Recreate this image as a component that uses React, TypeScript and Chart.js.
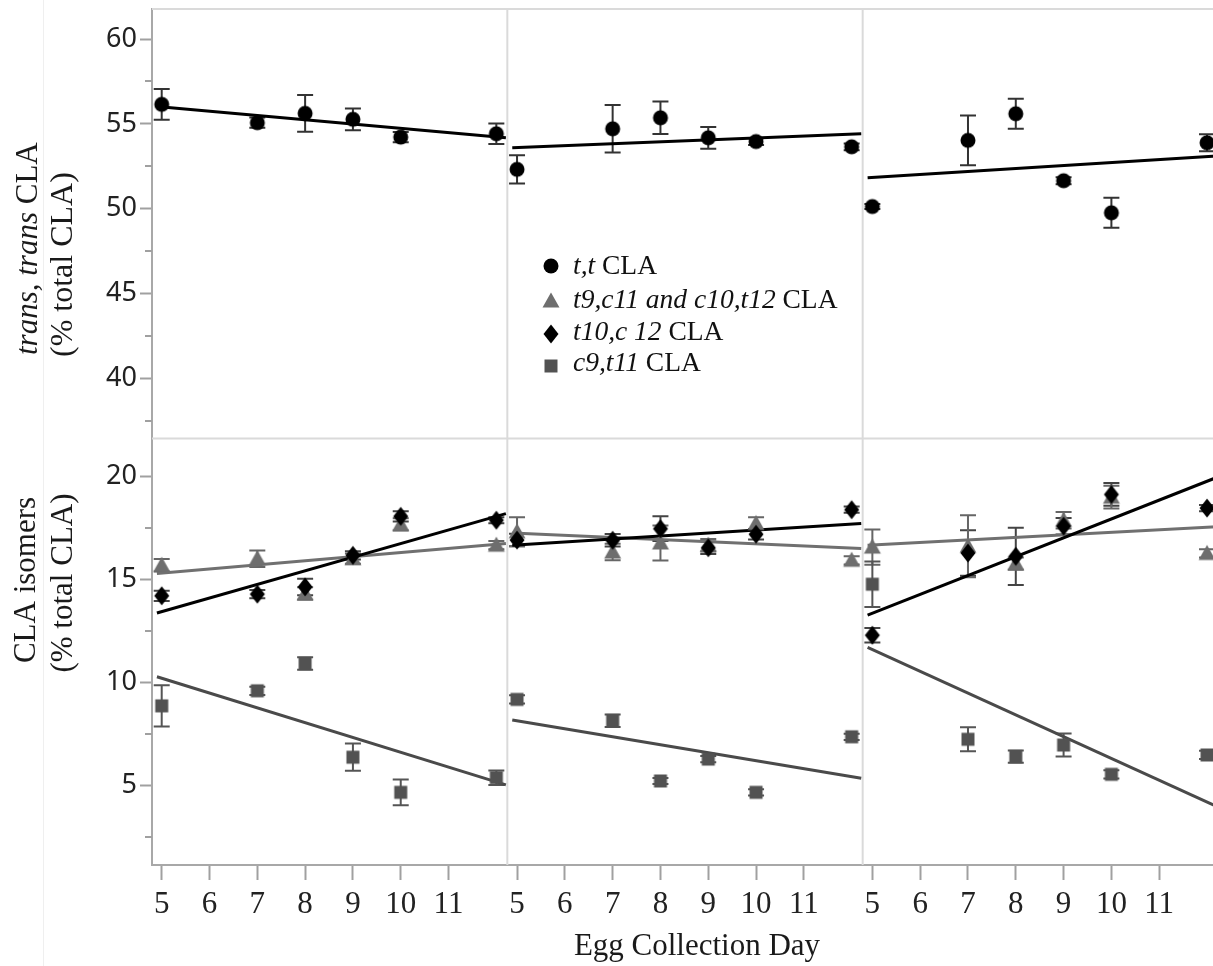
import React, { useEffect, useRef } from 'react';
import { Chart, registerables } from 'chart.js';

Chart.register(...registerables);

// ---------------- data ----------------
const days = [5, 7, 8, 9, 10, 12];
const xTickDays = [5, 6, 7, 8, 9, 10, 11];
const xRange = [4.797, 12.23];
const fitDays = [4.9, 12.2];

const topTicks = [40, 45, 50, 55, 60];
const topMinor = [37.5, 42.5, 47.5, 52.5, 57.5];
const topRange = [36.46, 61.77];
const bottomTicks = [5, 10, 15, 20];
const bottomMinor = [2.5, 7.5, 12.5, 17.5];
const bottomRange = [1.16, 21.82];

// t,t CLA (per panel)
const ttMean = [
  [56.15, 55.07, 55.62, 55.27, 54.22, 54.42],
  [52.32, 54.71, 55.36, 54.18, 53.96, 53.65],
  [50.13, 54.03, 55.6, 51.65, 49.76, 53.89],
];
const ttErr = [
  [0.9, 0.3, 1.08, 0.64, 0.3, 0.6],
  [0.83, 1.4, 0.96, 0.64, 0.2, 0.2],
  [0.15, 1.47, 0.88, 0.2, 0.88, 0.5],
];
const ttFit = [
  [56.03, 54.18],
  [53.59, 54.42],
  [51.82, 53.11],
];

// t9,c11 and c10,t12 CLA
const triMean = [
  [15.68, 16.0, 14.31, 16.0, 17.66, 16.65],
  [17.3, 16.32, 16.76, 16.65, 17.7, 15.92],
  [16.56, 16.6, 15.76, 17.86, 18.98, 16.25],
];
const triErr = [
  [0.3, 0.4, 0.3, 0.25, 0.3, 0.2],
  [0.7, 0.4, 0.85, 0.3, 0.3, 0.2],
  [0.85, 1.5, 0.3, 0.4, 0.55, 0.2],
];
const triFit = [
  [15.28, 16.73],
  [17.24, 16.49],
  [16.65, 17.54],
];

// t10,c12 CLA
const diaMean = [
  [14.2, 14.28, 14.63, 16.16, 18.05, 17.86],
  [16.9, 16.89, 17.45, 16.53, 17.18, 18.37],
  [12.29, 16.27, 16.11, 17.57, 19.11, 18.45],
];
const diaErr = [
  [0.25, 0.2, 0.4, 0.2, 0.25, 0.15],
  [0.3, 0.3, 0.6, 0.3, 0.25, 0.15],
  [0.35, 1.1, 1.39, 0.4, 0.55, 0.15],
];
const diaFit = [
  [13.37, 18.18],
  [16.65, 17.7],
  [13.26, 19.93],
];

// c9,t11 CLA
const sqMean = [
  [8.87, 9.6, 10.92, 6.38, 4.68, 5.39],
  [9.18, 8.15, 5.23, 6.29, 4.68, 7.37],
  [14.76, 7.25, 6.41, 6.97, 5.55, 6.49],
];
const sqErr = [
  [1.0, 0.2, 0.3, 0.66, 0.62, 0.35],
  [0.2, 0.3, 0.15, 0.15, 0.15, 0.15],
  [1.1, 0.58, 0.3, 0.56, 0.2, 0.2],
];
const sqFit = [
  [10.28, 5.04],
  [8.18, 5.36],
  [11.7, 4.0],
];

const legendItems: [string, string][] = [
  ['t,t', ' CLA'],
  ['t9,c11 and c10,t12', ' CLA'],
  ['t10,c 12', ' CLA'],
  ['c9,t11', ' CLA'],
];
const xTitle = 'Egg Collection Day';

// ---------------- styles ----------------
const SERIF = '"Liberation Serif", "Times New Roman", serif';
const SANS = '"Noto Sans", "Open Sans", sans-serif';

type Series = {
  label: string;
  mean: number[][];
  err: number[][];
  fit: number[][];
  yAxis: string;
  marker: string;
  color: string;
  line: string;
  errColor: string;
};

const series: Series[] = [
  { label: 't,t CLA', mean: ttMean, err: ttErr, fit: ttFit, yAxis: 'yT', marker: 'circle', color: '#000000', line: '#000000', errColor: '#333333' },
  { label: 't10,c12 CLA', mean: diaMean, err: diaErr, fit: diaFit, yAxis: 'yB', marker: 'diamond', color: '#000000', line: '#000000', errColor: '#444444' },
  { label: 't9,c11 and c10,t12 CLA', mean: triMean, err: triErr, fit: triFit, yAxis: 'yB', marker: 'triangle', color: '#6e6e6e', line: '#707070', errColor: '#666666' },
  { label: 'c9,t11 CLA', mean: sqMean, err: sqErr, fit: sqFit, yAxis: 'yB', marker: 'square', color: '#525252', line: '#4a4a4a', errColor: '#555555' },
];

const legendMarkers = [
  { marker: 'circle', color: '#000000' },
  { marker: 'triangle', color: '#6e6e6e' },
  { marker: 'diamond', color: '#000000' },
  { marker: 'square', color: '#525252' },
];

function drawMarker(g: CanvasRenderingContext2D, style: string, x: number, y: number, color: string) {
  g.fillStyle = color;
  g.beginPath();
  if (style === 'circle') {
    g.arc(x, y, 7.5, 0, Math.PI * 2);
  } else if (style === 'triangle') {
    g.moveTo(x, y - 8.5);
    g.lineTo(x + 8.5, y + 6.5);
    g.lineTo(x - 8.5, y + 6.5);
    g.closePath();
  } else if (style === 'diamond') {
    g.moveTo(x, y - 9.5);
    g.lineTo(x + 7.5, y);
    g.lineTo(x, y + 9.5);
    g.lineTo(x - 7.5, y);
    g.closePath();
  } else {
    g.rect(x - 6.5, y - 6.5, 13, 13);
  }
  g.fill();
}

function markerCanvas(style: string, color: string) {
  const c = document.createElement('canvas');
  c.width = 22;
  c.height = 22;
  const g = c.getContext('2d')!;
  drawMarker(g, style, 11, 11, color);
  return c;
}

function drawParts(ctx: CanvasRenderingContext2D, parts: [string, boolean][], x: number, y: number, size: number, align: 'left' | 'center') {
  const fonts = parts.map(([, it]) => `${it ? 'italic ' : ''}${size}px ${SERIF}`);
  let total = 0;
  const widths = parts.map(([t], i) => {
    ctx.font = fonts[i];
    const w = ctx.measureText(t).width;
    total += w;
    return w;
  });
  let cx = align === 'center' ? x - total / 2 : x;
  ctx.textAlign = 'left';
  ctx.textBaseline = 'alphabetic';
  parts.forEach(([t], i) => {
    ctx.font = fonts[i];
    ctx.fillText(t, cx, y);
    cx += widths[i];
  });
}

const decorPlugin = {
  id: 'decor',
  beforeDatasetsDraw(chart: any) {
    const ctx: CanvasRenderingContext2D = chart.ctx;
    const s = chart.scales;
    const { x1, x2, x3, yT, yB } = s;
    ctx.save();
    // faint outer image edge
    ctx.strokeStyle = '#efefef';
    ctx.lineWidth = 1;
    ctx.beginPath();
    ctx.moveTo(43.5, 0);
    ctx.lineTo(43.5, chart.height);
    ctx.stroke();

    // light panel frame
    ctx.strokeStyle = '#dadada';
    ctx.lineWidth = 2;
    ctx.beginPath();
    ctx.moveTo(x1.left, yT.top);
    ctx.lineTo(x3.right, yT.top);
    ctx.moveTo(x1.left, yT.bottom);
    ctx.lineTo(x3.right, yT.bottom);
    ctx.moveTo(x1.right, yT.top);
    ctx.lineTo(x1.right, yB.bottom);
    ctx.moveTo(x2.right, yT.top);
    ctx.lineTo(x2.right, yB.bottom);
    ctx.stroke();

    // minor y ticks
    ctx.strokeStyle = '#a0a0a0';
    ctx.lineWidth = 2;
    ctx.beginPath();
    topMinor.forEach((v) => {
      const y = Math.round(yT.getPixelForValue(v));
      ctx.moveTo(yT.right - 7, y);
      ctx.lineTo(yT.right, y);
    });
    bottomMinor.forEach((v) => {
      const y = Math.round(yB.getPixelForValue(v));
      ctx.moveTo(yB.right - 7, y);
      ctx.lineTo(yB.right, y);
    });
    ctx.stroke();

    // error bars
    chart.data.datasets.forEach((ds: any) => {
      if (!ds.errors) return;
      const xs = s[ds.xAxisID];
      const ys = s[ds.yAxisID];
      ctx.strokeStyle = ds.errColor;
      ctx.lineWidth = 2;
      ctx.beginPath();
      ds.data.forEach((pt: any, j: number) => {
        const e = ds.errors[j];
        const x = xs.getPixelForValue(pt.x);
        const y1 = ys.getPixelForValue(pt.y + e);
        const y2 = ys.getPixelForValue(pt.y - e);
        ctx.moveTo(x, y1);
        ctx.lineTo(x, y2);
        ctx.moveTo(x - 8, y1);
        ctx.lineTo(x + 8, y1);
        ctx.moveTo(x - 8, y2);
        ctx.lineTo(x + 8, y2);
      });
      ctx.stroke();
    });
    ctx.restore();
  },
  afterDraw(chart: any) {
    const ctx: CanvasRenderingContext2D = chart.ctx;
    ctx.save();
    ctx.fillStyle = '#1a1a1a';

    // y titles (rotated)
    ctx.save();
    ctx.translate(37, 355);
    ctx.rotate(-Math.PI / 2);
    drawParts(ctx, [['trans, trans', true], [' CLA', false]], 0, 0, 31, 'left');
    ctx.restore();
    ctx.save();
    ctx.translate(72, 357);
    ctx.rotate(-Math.PI / 2);
    drawParts(ctx, [['(% total CLA)', false]], 0, 0, 32, 'left');
    ctx.restore();

    ctx.save();
    ctx.translate(35, 580);
    ctx.rotate(-Math.PI / 2);
    drawParts(ctx, [['CLA isomers', false]], 0, 0, 31, 'center');
    ctx.restore();
    ctx.save();
    ctx.translate(72, 583);
    ctx.rotate(-Math.PI / 2);
    drawParts(ctx, [['(% total CLA)', false]], 0, 0, 31, 'center');
    ctx.restore();

    // x title
    drawParts(ctx, [[xTitle, false]], 697, 955, 31, 'center');

    // legend
    const markerY = [266, 301, 334, 366];
    const textY = [274, 308, 340, 371];
    legendItems.forEach(([it, rest], i) => {
      drawMarker(ctx, legendMarkers[i].marker, 551, markerY[i], legendMarkers[i].color);
      ctx.fillStyle = '#111111';
      drawParts(ctx, [[it, true], [rest, false]], 573, textY[i], 27.5, 'left');
    });
    ctx.restore();
  },
};

function xScale() {
  return {
    type: 'linear',
    position: 'bottom',
    stack: 'xs',
    stackWeight: 1,
    min: xRange[0],
    max: xRange[1],
    offset: false,
    afterBuildTicks: (sc: any) => {
      sc.ticks = xTickDays.map((v) => ({ value: v }));
    },
    afterFit: (sc: any) => {
      sc.height = 101;
      sc.paddingLeft = 0;
      sc.paddingRight = 0;
      sc.paddingTop = 0;
      sc.paddingBottom = 0;
    },
    grid: { drawOnChartArea: false, drawTicks: true, tickLength: 15, tickColor: '#a0a0a0', tickWidth: 2 },
    border: { display: true, color: '#a8a8a8', width: 2 },
    ticks: { font: { family: SERIF, size: 31 }, color: '#222222', padding: 6, maxRotation: 0, autoSkip: false },
  };
}

function yScale(range: number[], ticks: number[], stackWeight: number, weight: number) {
  return {
    type: 'linear',
    position: 'left',
    stack: 'ys',
    stackWeight,
    weight,
    min: range[0],
    max: range[1],
    afterBuildTicks: (sc: any) => {
      sc.ticks = ticks.map((v) => ({ value: v }));
    },
    afterFit: (sc: any) => {
      sc.width = 152;
      sc.paddingTop = 0;
      sc.paddingBottom = 0;
      sc.paddingLeft = 0;
      sc.paddingRight = 0;
    },
    grid: { drawOnChartArea: false, drawTicks: true, tickLength: 12, tickColor: '#a0a0a0', tickWidth: 2 },
    border: { display: true, color: '#a8a8a8', width: 2 },
    ticks: { font: { family: SANS, size: 27 }, color: '#222222', padding: 3 },
  };
}

export default function App() {
  const ref = useRef<HTMLCanvasElement>(null);
  useEffect(() => {
    const datasets: any[] = [];
    series.forEach((s) => {
      const img = markerCanvas(s.marker, s.color);
      [0, 1, 2].forEach((p) => {
        datasets.push({
          label: s.label,
          data: days.map((d, i) => ({ x: d, y: s.mean[p][i] })),
          errors: s.err[p],
          errColor: s.errColor,
          xAxisID: 'x' + (p + 1),
          yAxisID: s.yAxis,
          pointStyle: img,
          pointRadius: 8,
          showLine: false,
        });
      });
    });
    series.forEach((s) => {
      [0, 1, 2].forEach((p) => {
        datasets.push({
          label: s.label + ' fit',
          data: fitDays.map((d, i) => ({ x: d, y: s.fit[p][i] })),
          xAxisID: 'x' + (p + 1),
          yAxisID: s.yAxis,
          showLine: true,
          pointRadius: 0,
          borderColor: s.line,
          borderWidth: 3,
          tension: 0,
        });
      });
    });

    const chart = new Chart(ref.current!, {
      type: 'scatter',
      data: { datasets },
      options: {
        responsive: false,
        devicePixelRatio: 1,
        animation: false,
        layout: { padding: { top: 8, right: 12, bottom: 0, left: 0 } },
        plugins: { legend: { display: false }, tooltip: { enabled: false }, title: { display: false } },
        scales: {
          x1: xScale(),
          x2: xScale(),
          x3: xScale(),
          yB: yScale(bottomRange, bottomTicks, 427, 0),
          yT: yScale(topRange, topTicks, 430, 1),
        } as any,
      },
      plugins: [decorPlugin],
    } as any);
    return () => chart.destroy();
  }, []);

  return (
    <div style={{ position: 'absolute', left: 0, top: 0, width: 1213, height: 966, overflow: 'hidden', background: '#ffffff' }}>
      <canvas ref={ref} width={1230} height={966} style={{ display: 'block', width: 1230, height: 966 }} />
    </div>
  );
}
